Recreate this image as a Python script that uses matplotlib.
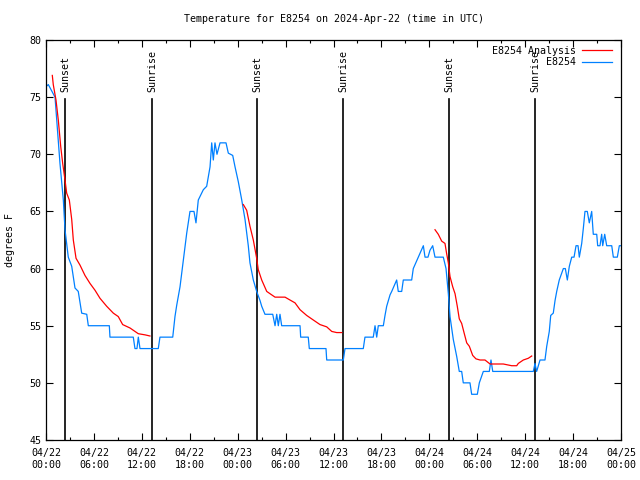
import numpy as np
import matplotlib
matplotlib.use("Agg")
import matplotlib.pyplot as plt

# hours since 2024-04-22 00:00 UTC
obs_hours = [0.13, 0.29, 1.13, 1.75, 2.17, 2.38, 2.79, 3.22, 3.63, 4.04, 4.47, 5.10, 5.30,
             7.93, 8.01, 10.93, 11.14, 11.39, 11.56, 11.77, 14.06, 14.27, 15.87, 16.15,
             16.37, 16.78, 17.19, 17.62, 17.82, 18.03, 18.53, 18.78, 19.07, 19.70, 20.12,
             20.54, 20.75, 20.95, 21.16, 21.41, 21.79, 22.54, 22.83, 23.38, 23.67, 24.08,
             24.51, 24.92, 25.33, 25.54, 25.96, 26.38, 26.80, 27.01, 27.42, 28.39, 28.68,
             28.89, 29.09, 29.30, 29.51, 31.81, 31.89, 32.84, 32.97, 35.06, 35.15, 37.23,
             37.44, 39.73, 39.94, 40.98, 41.20, 41.41, 41.61, 42.24, 42.45, 42.66, 43.08,
             43.29, 43.91, 44.11, 44.54, 44.74, 45.79, 45.99, 46.62, 47.25, 47.46, 47.83,
             48.08, 48.42, 48.71, 49.75, 50.09, 50.38, 50.59, 51.00, 51.43, 51.75, 52.05,
             52.25, 53.09, 53.30, 54.01, 54.26, 54.76, 55.51, 55.72, 55.94, 61.02, 61.23,
             61.44, 61.86, 62.48, 62.70, 63.02, 63.20, 63.52, 63.74, 63.95, 64.27, 64.78,
             65.03, 65.28, 65.53, 65.83, 66.12, 66.37, 66.62, 66.78, 67.08, 67.28, 67.49,
             67.78, 68.03, 68.33, 68.53, 68.96, 69.08, 69.37, 69.58, 69.71, 69.96, 70.21,
             70.84, 71.04, 71.54, 71.79, 72.0]
obs_temps = [76.0, 76.1, 75.0, 69.2, 66.0, 63.4, 61.0, 60.2, 58.3, 58.0, 56.1, 56.0, 55.0,
             55.0, 54.0, 54.0, 53.0, 53.0, 54.0, 53.0, 53.0, 54.0, 54.0, 55.8,
             56.8, 58.4, 60.7, 63.1, 64.0, 65.0, 65.0, 64.0, 66.0, 66.9, 67.2,
             68.9, 71.0, 69.5, 71.0, 70.0, 71.0, 71.0, 70.1, 69.9, 68.9, 67.6,
             66.0, 64.3, 62.0, 60.5, 59.0, 58.0, 57.2, 56.7, 56.0, 56.0, 55.0,
             56.0, 55.0, 56.0, 55.0, 55.0, 54.0, 54.0, 53.0, 53.0, 52.0, 52.0,
             53.0, 53.0, 54.0, 54.0, 55.0, 54.0, 55.0, 55.0, 55.9, 56.7, 57.7,
             58.0, 59.0, 58.0, 58.0, 59.0, 59.0, 60.0, 61.0, 62.0, 61.0, 61.0,
             61.6, 62.0, 61.0, 61.0, 60.0, 57.8, 55.8, 53.8, 52.3, 51.0, 51.0,
             50.0, 50.0, 49.0, 49.0, 50.0, 51.0, 51.0, 52.0, 51.0, 51.0, 51.7,
             51.0, 52.0, 52.0, 53.2, 54.5, 55.9, 56.1, 57.2, 58.0, 59.0, 60.0,
             60.0, 59.0, 60.2, 61.0, 61.0, 62.0, 62.0, 61.0, 62.2, 63.5, 65.0,
             65.0, 64.0, 65.0, 63.0, 63.0, 62.0, 62.0, 63.0, 62.0, 63.0, 62.0,
             62.0, 61.0, 61.0, 62.0, 62.0]

ana1_hours = [0.79, 0.91, 1.25, 1.54, 1.84, 2.09, 2.38, 2.59, 2.92, 3.22, 3.42, 3.76, 4.26,
              4.88, 5.51, 6.14, 6.76, 7.60, 8.43, 9.05, 9.60, 10.52, 11.56, 12.40, 13.02]
ana1_temps = [76.9, 76.1, 74.75, 73.0, 70.7, 69.2, 67.75, 66.6, 66.0, 64.3, 62.5, 60.9, 60.3,
              59.4, 58.7, 58.1, 57.4, 56.7, 56.1, 55.8, 55.1, 54.8, 54.3, 54.2, 54.1]
ana2_hours = [24.71, 25.13, 25.54, 25.96, 26.38, 26.58, 27.01, 27.64, 28.26, 28.68, 29.93,
              30.55, 31.18, 31.81, 32.64, 33.47, 34.31, 35.15, 35.78, 36.40, 37.03]
ana2_temps = [65.6, 65.1, 63.7, 62.5, 60.9, 59.9, 59.0, 58.0, 57.7, 57.5, 57.5,
              57.25, 57.0, 56.4, 55.9, 55.5, 55.1, 54.9, 54.5, 54.4, 54.4]
ana3_hours = [48.71, 49.12, 49.55, 49.96, 50.17, 50.38, 50.59, 50.93, 51.22, 51.50, 51.75,
              52.05, 52.38, 52.68, 53.01, 53.43, 53.84, 54.35, 54.97, 55.60, 57.26, 58.31,
              58.94, 59.14, 59.77, 60.39, 60.82]
ana3_temps = [63.4, 63.0, 62.4, 62.2, 61.3, 60.5, 59.3, 58.4, 57.8, 56.7, 55.6,
              55.2, 54.3, 53.5, 53.2, 52.4, 52.1, 52.0, 52.0, 51.65, 51.65, 51.5,
              51.5, 51.7, 52.0, 52.15, 52.35]

sun_hours = [2.42, 13.31, 26.46, 37.23, 50.50, 61.27]
sun_labels = ["Sunset", "Sunrise", "Sunset", "Sunrise", "Sunset", "Sunrise"]

tick_hours = list(range(0, 73, 6))
tick_labels = ["04/22\n00:00", "04/22\n06:00", "04/22\n12:00", "04/22\n18:00",
               "04/23\n00:00", "04/23\n06:00", "04/23\n12:00", "04/23\n18:00",
               "04/24\n00:00", "04/24\n06:00", "04/24\n12:00", "04/24\n18:00",
               "04/25\n00:00"]

plt.rcParams['font.family'] = ['DejaVu Sans Mono']
plt.rcParams['font.size'] = 7.2

fig = plt.figure(figsize=(6.4, 4.8), dpi=100)
ax = fig.add_axes([46 / 640, 40 / 480, 575 / 640, 400 / 480])

for h, lab in zip(sun_hours, sun_labels):
    ax.axvline(h, ymin=0, ymax=0.8525, color='black', lw=1.2, zorder=1)
    ax.text(h, 75.45, lab, rotation=90, ha='center', va='bottom', fontsize=7.2)

ax.plot(ana1_hours, ana1_temps, color='#ff0000', lw=0.9, label='E8254 Analysis', zorder=3)
ax.plot(ana2_hours, ana2_temps, color='#ff0000', lw=0.9, zorder=3)
ax.plot(ana3_hours, ana3_temps, color='#ff0000', lw=0.9, zorder=3)
ax.plot(obs_hours, obs_temps, color='#0080ff', lw=0.9, label='E8254', zorder=2)

ax.set_xlim(0, 72)
ax.set_ylim(45, 80)
ax.set_xticks(tick_hours)
ax.set_xticklabels(tick_labels)
ax.set_xticks(list(range(3, 72, 6)), minor=True)
ax.set_yticks(range(45, 81, 5))
ax.tick_params(which='both', direction='in', top=True, right=True, width=0.8)
ax.tick_params(which='major', length=5)
ax.tick_params(which='minor', length=2.5)
ax.tick_params(axis='x', pad=6)
for s in ax.spines.values():
    s.set_linewidth(0.9)

ax.set_title("Temperature for E8254 on 2024-Apr-22 (time in UTC)", fontsize=7.2, pad=13)
ax.set_ylabel("degrees F")
ax.yaxis.set_label_coords(-0.054, 0.5)

leg = ax.legend(loc='upper right', frameon=False, markerfirst=False, handlelength=3.0,
                borderaxespad=0.2, labelspacing=0.15, handletextpad=0.6, fontsize=7.2,
                bbox_to_anchor=(0.995, 1.0))

fig.savefig("out.png", dpi=100)
